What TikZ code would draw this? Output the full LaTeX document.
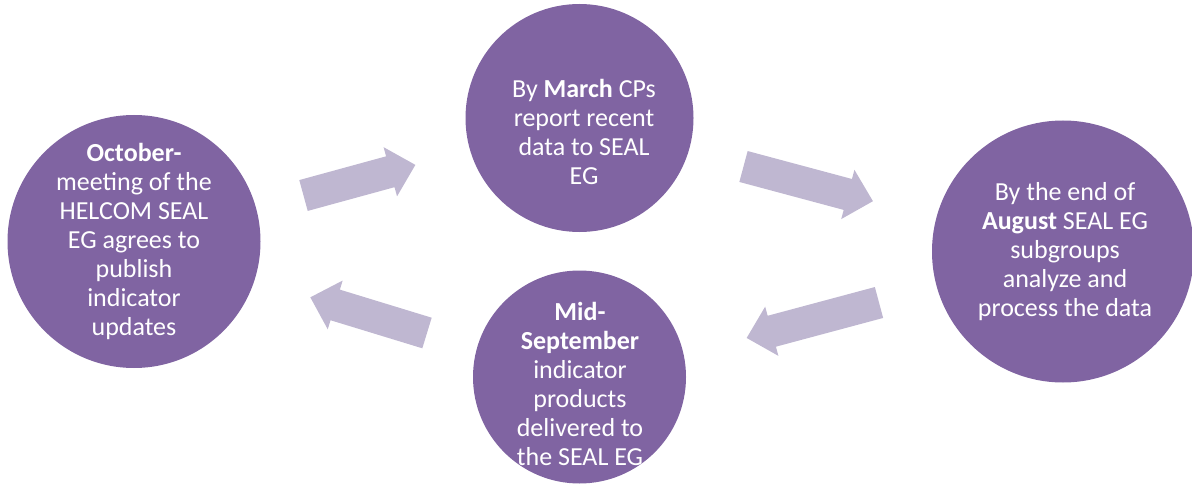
\documentclass[tikz,border=0pt]{standalone}
\usepackage{fontspec}
\setmainfont{Carlito}
\definecolor{circfill}{HTML}{8064A2}
\definecolor{arrowfill}{RGB}{191,183,209}
\tikzset{
  x=1pt, y=-1pt,
  phase/.style={circle, fill=circfill, draw=none, inner sep=0pt},
  phasetext/.style={text=white, align=center, inner sep=0pt,
    font=\fontsize{26}{29}\selectfont},
  pics/blockarrow/.style={code={
    \fill[arrowfill] (0,-16) -- ({#1-26},-16) -- ({#1-26},-25.5) -- (#1,0)
      -- ({#1-26},25.5) -- ({#1-26},16) -- (0,16) -- cycle;}}
}
\begin{document}
\begin{tikzpicture}
\useasboundingbox (0,0) rectangle (1192,492);
% circles
\node[phase, minimum size=253pt] (oct) at (134,241.5) {};
\node[phase, minimum size=228pt] (mar) at (579.5,118) {};
\node[phase, minimum size=262pt] (aug) at (1063,251.5) {};
\node[phase, minimum size=213pt] (sep) at (579.5,377) {};
% texts
\node[phasetext] (octt) at (134,241.5) {\textbf{October-}\\meeting of the\\HELCOM SEAL\\EG agrees to\\publish\\indicator\\updates};
\node[phasetext] (mart) at (584,132) {By \textbf{March} CPs\\report recent\\data to SEAL\\EG};
\node[phasetext] (augt) at (1065,251.5) {By the end of\\\textbf{August} SEAL EG\\subgroups\\analyze and\\process the data};
\node[phasetext] (sept) at (580,384) {\textbf{Mid-}\\\textbf{September}\\indicator\\products\\delivered to\\the SEAL EG};
% block arrows
\pic[rotate=15.3] (a1) at (303.5,195.5) {blockarrow=116};
\pic[rotate=-15] (a2) at (743.5,166.5) {blockarrow=134};
\pic[rotate=195] (a3) at (879,302.5) {blockarrow=137};
\pic[rotate=163] (a4) at (427,333) {blockarrow=122};
\end{tikzpicture}
\end{document}
